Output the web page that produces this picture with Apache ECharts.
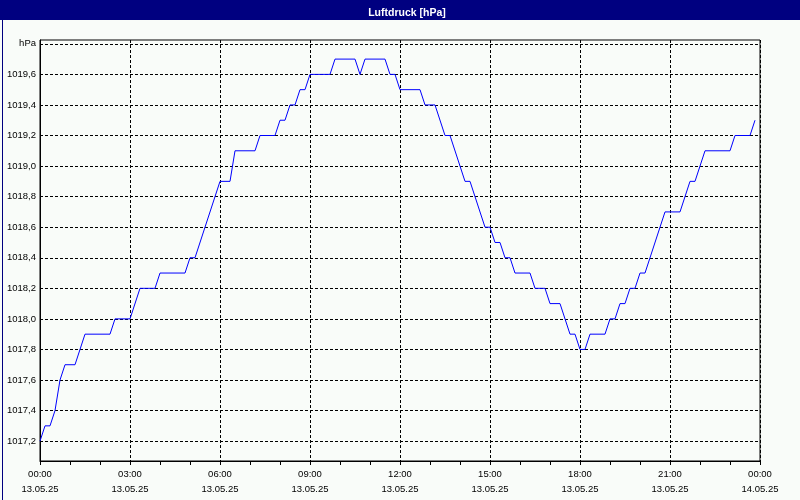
<!DOCTYPE html>
<html><head><meta charset="utf-8">
<script src="https://cdn.jsdelivr.net/npm/echarts@6/dist/echarts.min.js"></script>
<style>html,body{margin:0;padding:0;background:#f9fcf9;}#c{width:800px;height:500px;}</style>
</head><body><div id="c"></div>
<script>
// time of each reading (minutes after 13.05.25 00:00)
const minutes = [0,10,20,30,40,50,70,90,140,150,180,200,230,240,290,300,310,360,380,390,430,440,470,480,490,500,510,520,530,540,580,590,630,640,650,690,700,710,720,760,770,790,810,820,850,860,890,900,910,920,930,940,950,980,990,1010,1020,1040,1060,1070,1080,1090,1100,1130,1140,1150,1160,1170,1180,1190,1200,1210,1250,1280,1300,1310,1330,1380,1390,1420,1430];
// pressure in hPa
const pressure = [1017.2,1017.3,1017.3,1017.4,1017.6,1017.7,1017.7,1017.9,1017.9,1018.0,1018.0,1018.2,1018.2,1018.3,1018.3,1018.4,1018.4,1018.9,1018.9,1019.1,1019.1,1019.2,1019.2,1019.3,1019.3,1019.4,1019.4,1019.5,1019.5,1019.6,1019.6,1019.7,1019.7,1019.6,1019.7,1019.7,1019.6,1019.6,1019.5,1019.5,1019.4,1019.4,1019.2,1019.2,1018.9,1018.9,1018.6,1018.6,1018.5,1018.5,1018.4,1018.4,1018.3,1018.3,1018.2,1018.2,1018.1,1018.1,1017.9,1017.9,1017.8,1017.8,1017.9,1017.9,1018.0,1018.0,1018.1,1018.1,1018.2,1018.2,1018.3,1018.3,1018.7,1018.7,1018.9,1018.9,1019.1,1019.1,1019.2,1019.2,1019.3];
// y tick values (1019.8 carries the unit label)
const yTicks = [1017.2,1017.4,1017.6,1017.8,1018.0,1018.2,1018.4,1018.6,1018.8,1019.0,1019.2,1019.4,1019.6,1019.8];
const timeLabels = ['00:00','03:00','06:00','09:00','12:00','15:00','18:00','21:00','00:00'];
const dateLabels = ['13.05.25','13.05.25','13.05.25','13.05.25','13.05.25','13.05.25','13.05.25','13.05.25','14.05.25'];
const title = 'Luftdruck [hPa]';
const unit = 'hPa';

const data = minutes.map((m, i) => [m, pressure[i]]);
const font = 'Tahoma, "Liberation Sans", sans-serif';
const chart = echarts.init(document.getElementById('c'), null, {renderer: 'canvas'});
chart.setOption({
  animation: false,
  backgroundColor: '#f9fcf9',
  graphic: [
    {type: 'rect', left: 0, top: 0, shape: {width: 800, height: 20}, style: {fill: '#000080'}, z: 0},
    {type: 'rect', left: 0, top: 0, shape: {x: 0.5, y: 0.5, width: 799, height: 499}, style: {fill: null, stroke: '#000080', lineWidth: 1}, z: 0, silent: true}
  ],
  title: {
    text: title, left: 402, textAlign: 'center', top: 3,
    textStyle: {color: '#ffffff', fontSize: 10.5, fontWeight: 'bold', fontFamily: font}
  },
  grid: {left: 40, right: 40, top: 40, bottom: 39, show: true, borderColor: '#000', borderWidth: 1, backgroundColor: 'transparent'},
  xAxis: {
    type: 'value', min: 0, max: 1440, interval: 180,
    axisLine: {show: true, lineStyle: {color: '#000', width: 1}},
    axisTick: {show: true, length: 4, lineStyle: {color: '#000'}},
    minorTick: {show: true, splitNumber: 3, length: 4, lineStyle: {color: '#000'}},
    splitLine: {show: true, lineStyle: {color: '#000', type: [3, 2], width: 1}},
    axisLabel: {
      color: '#000', fontSize: 9.5, fontFamily: font, lineHeight: 15, margin: 6,
      formatter: v => { const i = Math.round(v / 180); return timeLabels[i] + '\n' + dateLabels[i]; }
    }
  },
  yAxis: {
    type: 'value', min: 1017.07, max: 1019.825,
    axisLine: {show: true, lineStyle: {color: '#000', width: 1}},
    axisTick: {show: false, customValues: yTicks},
    splitLine: {show: true, customValues: yTicks, lineStyle: {color: '#000', type: [3, 2], width: 1}},
    axisLabel: {
      color: '#000', fontSize: 9.5, fontFamily: font, margin: 4,
      customValues: yTicks,
      formatter: v => Math.abs(v - 1019.8) < 1e-6 ? unit : v.toFixed(1).replace('.', ',')
    }
  },
  series: [{
    type: 'line', data: data, showSymbol: false, symbol: 'none',
    lineStyle: {color: '#0000ff', width: 1}, itemStyle: {color: '#0000ff'}
  }]
});
</script></body></html>
